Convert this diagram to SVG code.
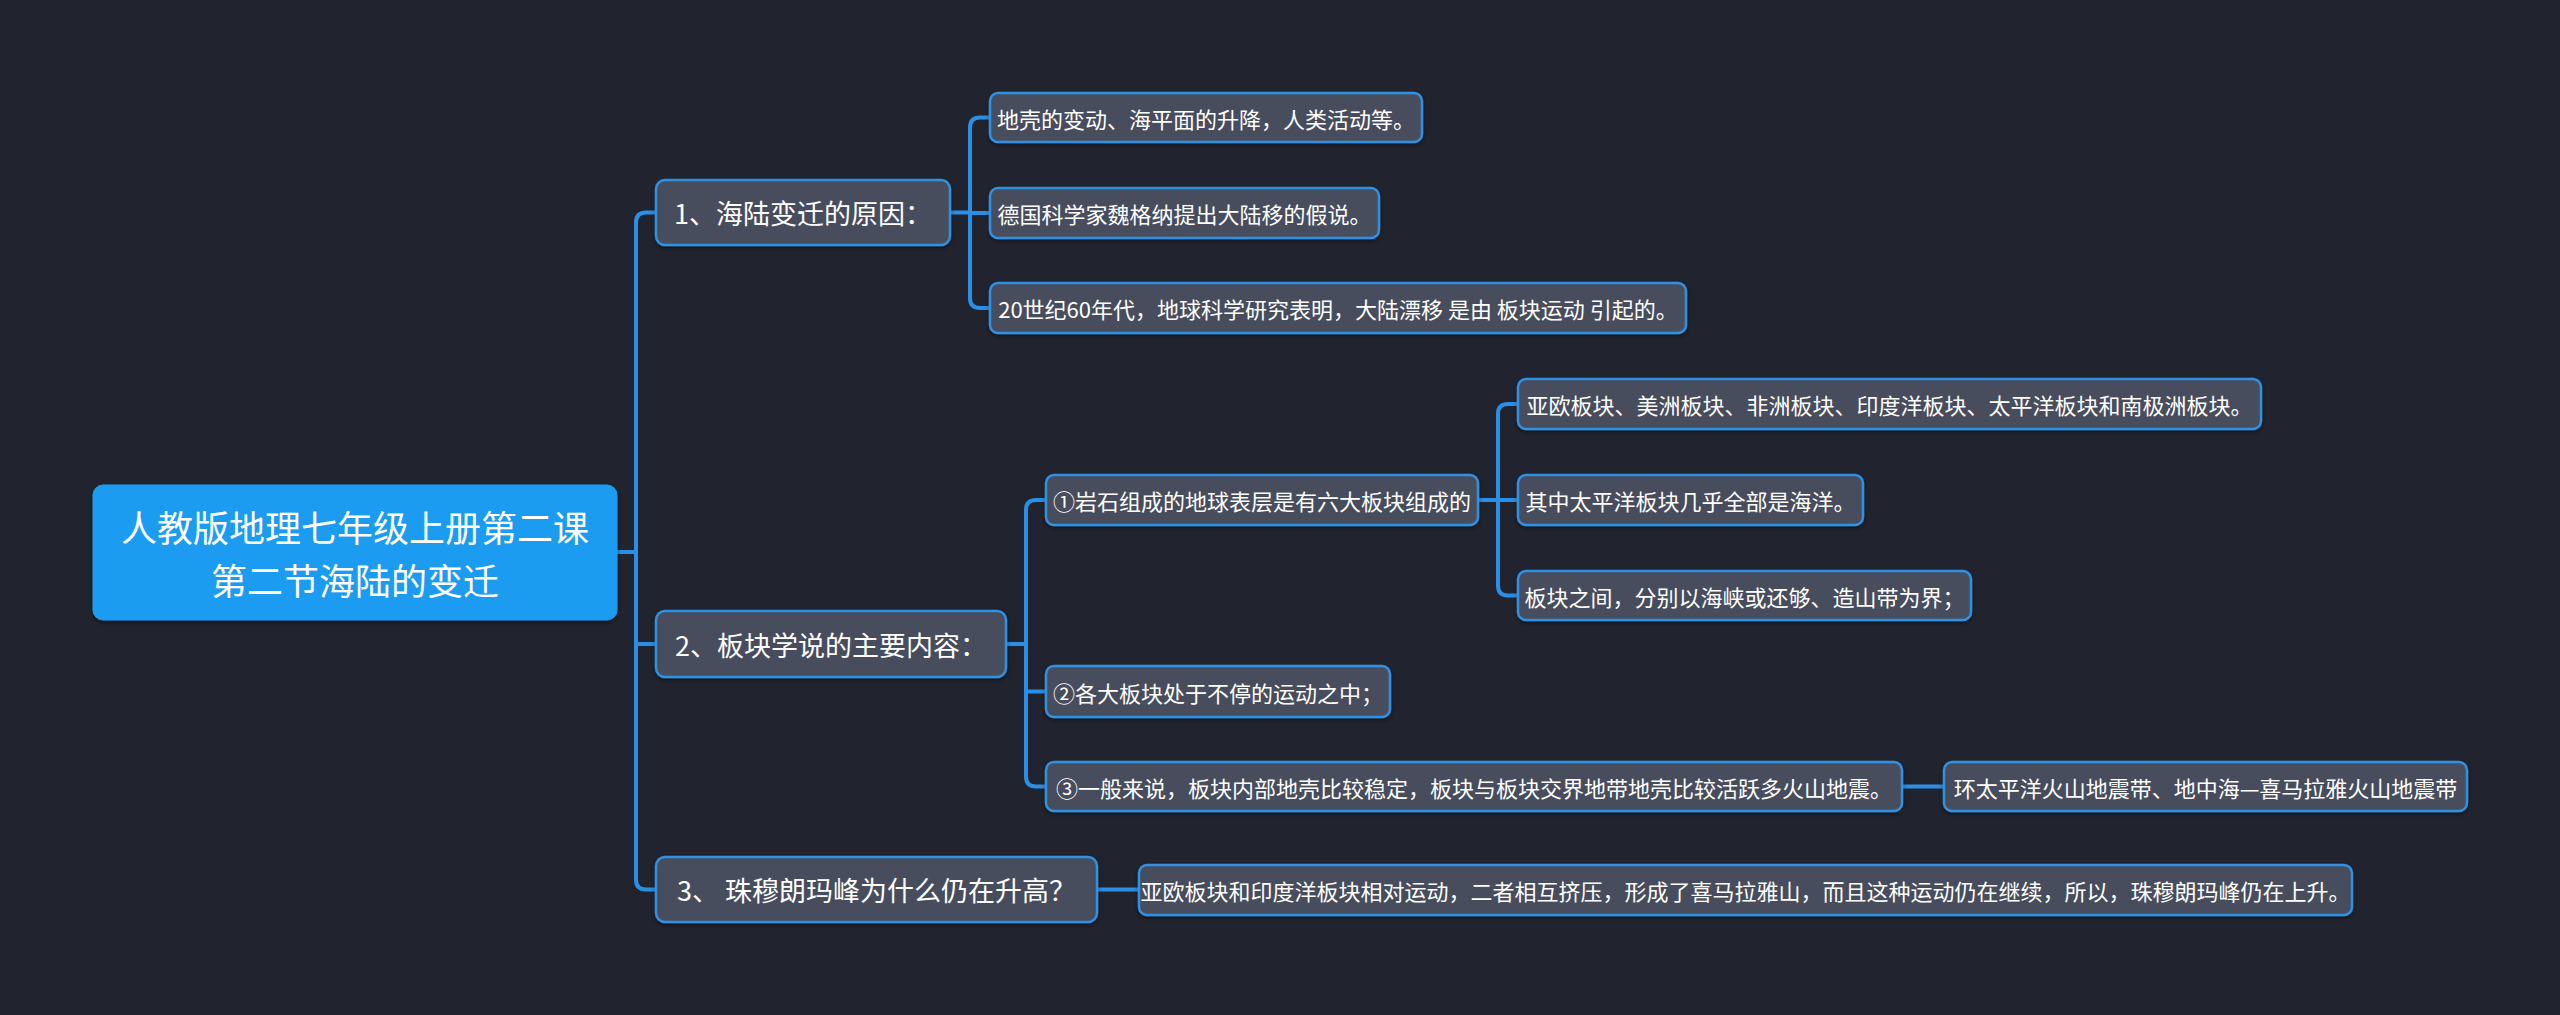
<svg xmlns="http://www.w3.org/2000/svg" width="2560" height="1015" viewBox="0 0 2560 1015">
  <defs>
    <filter id="sh" x="-5%" y="-20%" width="110%" height="150%">
      <feDropShadow dx="0" dy="2" stdDeviation="2" flood-color="#000" flood-opacity="0.45"/>
    </filter>
    <style>
      .bg { fill: #21242e; }
      .node rect { fill: #474e5d; stroke: #2f91e4; stroke-width: 2.5; filter: url(#sh); }
      .root rect { fill: #1b9cf0; stroke: #1b9cf0; stroke-width: 1; filter: url(#sh); }
      text { font-family: "Noto Sans CJK SC", "Noto Sans", sans-serif; fill: #ffffff; text-anchor: middle; dominant-baseline: central; }
      .t0 { font-size: 36px; }
      .t1 { font-size: 27px; }
      .t2 { font-size: 22px; }
      .links path { fill: none; stroke: #2b8fe6; stroke-width: 4; stroke-linecap: round; }
    </style>
  </defs>
  <rect class="bg" x="0" y="0" width="2560" height="1015"/>

  <g class="links" id="connectors">
    <path d="M617,552 H636"/>
    <path d="M656,212.5 H646 Q636,212.5 636,222.5 V879.5 Q636,889.5 646,889.5 H656"/>
    <path d="M636,644 H656"/>

    <path d="M950,212.5 H970"/>
    <path d="M990,117.5 H980 Q970,117.5 970,127.5 V298 Q970,308 980,308 H990"/>
    <path d="M970,213 H990"/>

    <path d="M1006,644 H1026"/>
    <path d="M1046,500 H1036 Q1026,500 1026,510 V776.5 Q1026,786.5 1036,786.5 H1046"/>
    <path d="M1026,691.5 H1046"/>

    <path d="M1478,500 H1498"/>
    <path d="M1518,404 H1508 Q1498,404 1498,414 V585.5 Q1498,595.5 1508,595.5 H1518"/>
    <path d="M1498,500 H1518"/>

    <path d="M1902,786.5 H1944"/>
    <path d="M1097,889.5 H1139"/>
  </g>

  <g id="root" class="root">
    <rect x="93" y="485" width="524" height="135" rx="10"/>
    <text class="t0" x="355" y="526">人教版地理七年级上册第二课</text>
    <text class="t0" x="355" y="579">第二节海陆的变迁</text>
  </g>

  <g id="n1" class="node">
    <rect x="656" y="180" width="294" height="65" rx="9"/>
    <text class="t1" x="803" y="212.5">1、海陆变迁的原因：</text>
  </g>
  <g id="n2" class="node">
    <rect x="656" y="611" width="350" height="66" rx="9"/>
    <text class="t1" x="831" y="644">2、板块学说的主要内容：</text>
  </g>
  <g id="n3" class="node">
    <rect x="656" y="857" width="441" height="65" rx="9"/>
    <text class="t1" x="876.5" y="889.5">3、 珠穆朗玛峰为什么仍在升高？</text>
  </g>

  <g id="c1" class="node">
    <rect x="990" y="93" width="432" height="49" rx="8"/>
    <text class="t2" x="1206" y="117.5">地壳的变动、海平面的升降，人类活动等。</text>
  </g>
  <g id="c2" class="node">
    <rect x="990" y="188" width="389" height="50" rx="8"/>
    <text class="t2" x="1184.5" y="213">德国科学家魏格纳提出大陆移的假说。</text>
  </g>
  <g id="c3" class="node">
    <rect x="990" y="283" width="696" height="50" rx="8"/>
    <text class="t2" x="1338" y="308">20世纪60年代，地球科学研究表明，大陆漂移 是由 板块运动 引起的。</text>
  </g>

  <g id="b1" class="node">
    <rect x="1046" y="475" width="432" height="50" rx="8"/>
    <text class="t2" x="1262" y="500">①岩石组成的地球表层是有六大板块组成的</text>
  </g>
  <g id="b2" class="node">
    <rect x="1046" y="666" width="344" height="51" rx="8"/>
    <text class="t2" x="1218" y="691.5">②各大板块处于不停的运动之中；</text>
  </g>
  <g id="b3" class="node">
    <rect x="1046" y="762" width="856" height="49" rx="8"/>
    <text class="t2" x="1474" y="786.5">③一般来说，板块内部地壳比较稳定，板块与板块交界地带地壳比较活跃多火山地震。</text>
  </g>

  <g id="d1" class="node">
    <rect x="1518" y="379" width="743" height="50" rx="8"/>
    <text class="t2" x="1889.5" y="404">亚欧板块、美洲板块、非洲板块、印度洋板块、太平洋板块和南极洲板块。</text>
  </g>
  <g id="d2" class="node">
    <rect x="1518" y="475" width="345" height="50" rx="8"/>
    <text class="t2" x="1690.5" y="500">其中太平洋板块几乎全部是海洋。</text>
  </g>
  <g id="d3" class="node">
    <rect x="1518" y="571" width="453" height="49" rx="8"/>
    <text class="t2" x="1744.5" y="595.5">板块之间，分别以海峡或还够、造山带为界；</text>
  </g>

  <g id="e1" class="node">
    <rect x="1944" y="762" width="523" height="49" rx="8"/>
    <text class="t2" x="2205.5" y="786.5">环太平洋火山地震带、地中海—喜马拉雅火山地震带</text>
  </g>

  <g id="f1" class="node">
    <rect x="1139" y="865" width="1213" height="50" rx="8"/>
    <text class="t2" x="1745.5" y="890">亚欧板块和印度洋板块相对运动，二者相互挤压，形成了喜马拉雅山，而且这种运动仍在继续，所以，珠穆朗玛峰仍在上升。</text>
  </g>
</svg>
